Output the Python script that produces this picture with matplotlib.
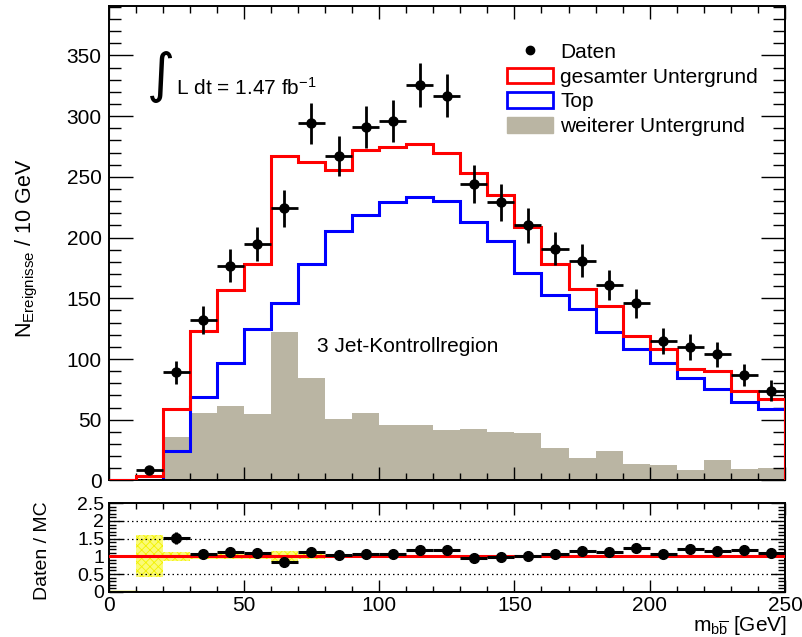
import numpy as np
import matplotlib
matplotlib.use("Agg")
import matplotlib.pyplot as plt
from matplotlib.patches import Patch
from matplotlib.lines import Line2D
from matplotlib.ticker import MultipleLocator, FuncFormatter

# ---- binned m_bb distribution, 3-jet control region ----
bin_edges = np.arange(0, 260, 10)
data_counts = [0, 9, 89, 132, 177, 195, 224, 294, 267, 291, 296, 326, 317,
               244, 229, 210, 191, 181, 161, 146, 115, 110, 104, 87, 74]
total_bkg = [0, 3.5, 58.5, 123, 157, 178, 267, 262, 255.5, 272.5, 274.5, 277.5,
             269.5, 253, 235.5, 209, 178.5, 158, 144, 119, 108, 92, 90.5, 73.5, 67]
top_bkg = [0, 0.8, 24, 68.5, 97, 125, 146, 178.5, 205.5, 218.3, 229.2, 233.6,
           230, 212.5, 197, 171, 153, 141, 122, 108, 97, 84, 75, 64.5, 59]
other_bkg = [0, 0, 35.7, 55.5, 61.3, 54.7, 122.2, 84.5, 50.8, 55.5, 45.9, 45.3,
             41.2, 42, 40, 39, 26.6, 18.7, 23.9, 13.2, 12.4, 8.8, 17, 9.6, 10.4]
# relative MC statistical uncertainty per bin (ratio band)
mc_rel_err = [0, 0.59, 0.125, 0.08, 0.07, 0.07, 0.16, 0.08, 0.05, 0.05, 0.05,
              0.05, 0.05, 0.05, 0.05, 0.05, 0.05, 0.05, 0.05, 0.05, 0.05, 0.05,
              0.05, 0.05, 0.05]

legend_labels = ["Daten", "gesamter Untergrund", "Top", "weiterer Untergrund"]

plt.rcParams["font.family"] = ["Liberation Sans", "DejaVu Sans"]
plt.rcParams["mathtext.fontset"] = "custom"
plt.rcParams["mathtext.rm"] = "Liberation Sans"
plt.rcParams["mathtext.it"] = "Liberation Sans:italic"
plt.rcParams["hatch.linewidth"] = 0.6

GRAY = "#bab5a3"

edges = np.asarray(bin_edges, dtype=float)
centers = 0.5 * (edges[1:] + edges[:-1])
half_w = 0.5 * np.diff(edges)
data = np.asarray(data_counts, dtype=float)
total = np.asarray(total_bkg, dtype=float)
top = np.asarray(top_bkg, dtype=float)
other = np.asarray(other_bkg, dtype=float)
rel = np.asarray(mc_rel_err, dtype=float)

fig = plt.figure(figsize=(8.02, 6.37), dpi=100)
ax = fig.add_axes([0.1353, 0.2457, 0.8435, 0.7454])
rax = fig.add_axes([0.1353, 0.0711, 0.8435, 0.1388])

# ---- main panel ----
ax.stairs(other, edges, fill=True, color=GRAY, lw=0, zorder=1)
ax.stairs(top, edges, color="#0000ff", lw=2.2, zorder=2)
ax.stairs(total, edges, color="#ff0000", lw=2.2, zorder=3)

m = data > 0
ax.errorbar(centers[m], data[m], yerr=np.sqrt(data[m]), xerr=half_w[m],
            fmt="o", color="black", ms=6.5, elinewidth=2.0, capsize=0, zorder=5)

ax.set_xlim(0, 250)
ax.set_ylim(0, 391)
ax.xaxis.set_major_locator(MultipleLocator(50))
ax.xaxis.set_minor_locator(MultipleLocator(10))
ax.yaxis.set_major_locator(MultipleLocator(50))
ax.yaxis.set_minor_locator(MultipleLocator(10))
ax.tick_params(which="both", direction="in", top=True, right=True,
               labelbottom=False, width=1.0)
ax.tick_params(axis="y", which="major", length=17, labelsize=15, pad=5)
ax.tick_params(axis="y", which="minor", length=8.5)
ax.tick_params(axis="x", which="major", length=9.5)
ax.tick_params(axis="x", which="minor", length=4.7)
for s in ax.spines.values():
    s.set_linewidth(1.4)

fig.text(26.5 / 802, 1 - 248 / 637,
         r"$\mathregular{N_{Ereignisse}}$ / 10 GeV",
         rotation=90, ha="center", va="center", fontsize=15.5)

ax.text(19.4, 332, "\u222b", fontsize=39, ha="center", va="center",
        family=["DejaVu Sans"])
ax.text(24.9, 317.5, r"L dt = 1.47 fb$^{\mathregular{-1}}$", fontsize=15,
        va="baseline", ha="left")
ax.text(76.9, 110, "3 Jet-Kontrollregion", fontsize=15, va="center", ha="left")

handles = [
    Line2D([], [], marker="o", ls="none", color="black", ms=6),
    Patch(facecolor="white", edgecolor="#ff0000", lw=2),
    Patch(facecolor="white", edgecolor="#0000ff", lw=2),
    Patch(facecolor=GRAY, edgecolor=GRAY, lw=1),
]
ax.legend(handles, legend_labels, loc="upper left",
          bbox_to_anchor=(0.589, 0.922), frameon=False, fontsize=15,
          handlelength=2.2, handleheight=0.77, handletextpad=0.35,
          labelspacing=0.28, borderaxespad=0, borderpad=0)

# ---- ratio panel ----
ratio = np.full_like(data, np.nan)
rerr = np.full_like(data, np.nan)
ok = (total > 0) & (data > 0)
ratio[ok] = data[ok] / total[ok]
rerr[ok] = np.sqrt(data[ok]) / total[ok]
show = ok & (ratio <= 2.5)

band_mask = rel > 0
rax.bar(centers[band_mask], 2 * rel[band_mask], bottom=1 - rel[band_mask],
        width=np.diff(edges)[band_mask], facecolor="#fbfb78",
        edgecolor="#f2f200", hatch="xxxx", lw=0, zorder=1)
rax.plot([edges[0], edges[1]], [0, 0], color="#d8d800", lw=2.5, zorder=1)

for yv in (0.5, 1.5, 2.0):
    rax.axhline(yv, color="black", lw=0.9, dashes=(1.2, 2.4), zorder=2)
rax.axhline(1.0, color="#ff0000", lw=2.2, zorder=3)

rax.errorbar(centers[show], ratio[show], yerr=rerr[show], xerr=half_w[show],
             fmt="o", color="black", ms=7, elinewidth=2.2, capsize=0, zorder=5)

rax.set_xlim(0, 250)
rax.set_ylim(0, 2.5)
rax.xaxis.set_major_locator(MultipleLocator(50))
rax.xaxis.set_minor_locator(MultipleLocator(10))
rax.yaxis.set_major_locator(MultipleLocator(0.5))
rax.yaxis.set_minor_locator(MultipleLocator(0.1))
rax.yaxis.set_major_formatter(FuncFormatter(lambda v, p: "%g" % v))
rax.tick_params(which="both", direction="in", top=True, right=True, width=1.0)
rax.tick_params(axis="y", which="major", length=10, labelsize=14, pad=3)
rax.tick_params(axis="y", which="minor", length=5)
rax.tick_params(axis="x", which="major", length=8.6, labelsize=15, pad=3)
rax.tick_params(axis="x", which="minor", length=4.3)
for s in rax.spines.values():
    s.set_linewidth(1.4)

fig.text(42.3 / 802, 1 - 550.6 / 637, "Daten / MC", rotation=90,
         ha="center", va="center", fontsize=14)
fig.text(787 / 802, 1 - 631 / 637, r"$\mathregular{m_{b\overline{b}}}$ [GeV]",
         ha="right", va="baseline", fontsize=15)

fig.savefig("out.png", dpi=100)
